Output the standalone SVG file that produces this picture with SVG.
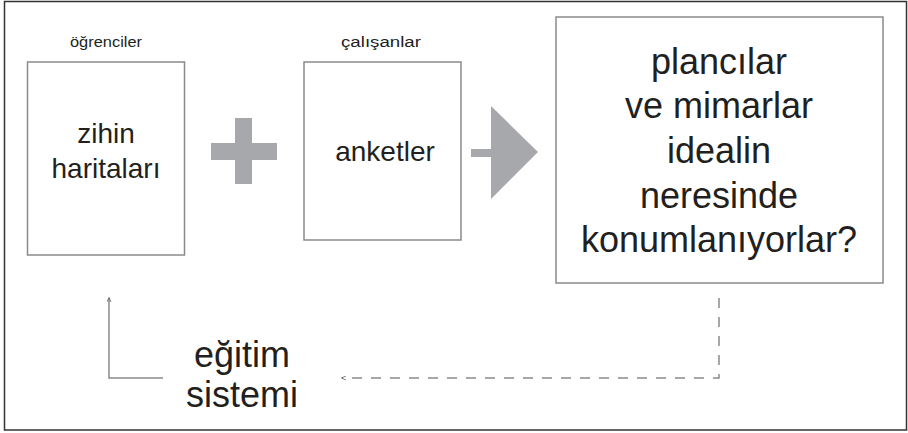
<svg xmlns="http://www.w3.org/2000/svg" width="908" height="433" viewBox="0 0 908 433">
<style>
.box{fill:#fff;stroke:#8a8a8a;stroke-width:1.5}
.t{font-family:"Liberation Sans",Arial,sans-serif;fill:#231f20;text-anchor:middle}
.big{font-size:36px}
.mid{font-size:28px}
.sm{font-size:14px}
.sym{fill:#a7a8ab}
.con{fill:none;stroke:#8a8a8a;stroke-width:1.5}
</style>
<defs>
<marker id="ah" viewBox="0 0 10 10" refX="8" refY="5" markerWidth="5" markerHeight="5" orient="auto" markerUnits="userSpaceOnUse">
<path d="M0,1 L9,5 L0,9" fill="none" stroke="#555" stroke-width="1.5"/>
</marker>
</defs>
<rect x="0" y="0" width="908" height="433" fill="#fff"/>
<rect x="4.5" y="1.5" width="902" height="428.5" fill="none" stroke="#333" stroke-width="1.5"/>
<g id="node-ogrenciler">
<text class="t sm" x="106" y="47" textLength="72" lengthAdjust="spacingAndGlyphs">öğrenciler</text>
<rect class="box" x="27.5" y="62" width="157" height="193"/>
<text class="t mid" x="106" y="143">zihin</text>
<text class="t mid" x="106" y="178">haritaları</text>
</g>
<g id="node-plus">
<rect class="sym" x="235" y="118" width="17" height="66"/>
<rect class="sym" x="211" y="143" width="66" height="17"/>
</g>
<g id="node-calisanlar">
<text class="t sm" x="381" y="47" textLength="80" lengthAdjust="spacingAndGlyphs">çalışanlar</text>
<rect class="box" x="304" y="62" width="157" height="178"/>
<text class="t mid" x="385" y="161">anketler</text>
</g>
<g id="node-arrow">
<rect class="sym" x="471" y="149" width="21" height="8"/>
<polygon class="sym" points="491,106 538,152 491,199"/>
</g>
<g id="node-question">
<rect class="box" x="556" y="17" width="327" height="266"/>
<text class="t big" x="719" y="74">plancılar</text>
<text class="t big" x="719" y="118">ve mimarlar</text>
<text class="t big" x="719" y="163">idealin</text>
<text class="t big" x="719" y="208">neresinde</text>
<text class="t big" x="719" y="252">konumlanıyorlar?</text>
</g>
<g id="node-egitim">
<text class="t big" x="242" y="367">eğitim</text>
<text class="t big" x="242" y="407">sistemi</text>
</g>
<g id="connectors">
<path class="con" d="M719,298 L719,378 L342,378" stroke-dasharray="10,9" stroke="#999" marker-end="url(#ah)"/>
<path class="con" d="M163,378 L109,378 L109,298" marker-end="url(#ah)"/>
</g>
</svg>
